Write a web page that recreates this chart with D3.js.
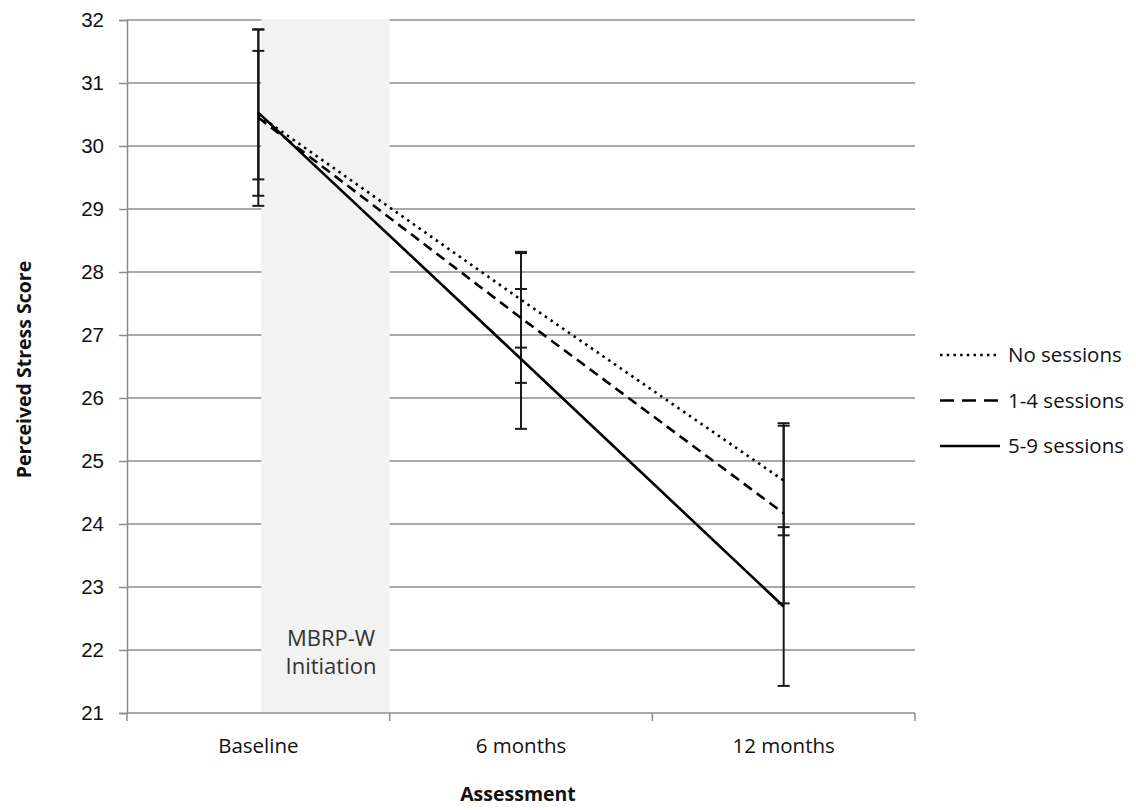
<!DOCTYPE html>
<html>
<head>
<meta charset="utf-8">
<script src="https://cdn.jsdelivr.net/npm/d3@7"></script>
<style>
  body { margin: 0; background: #ffffff; }
  svg { font-family: "Open Sans", "Noto Sans", sans-serif; }
</style>
</head>
<body>
<div id="container"></div>
<script>
"use strict";

const categories = ["Baseline", "6 months", "12 months"];
const seriesNames = ["No sessions", "1-4 sessions", "5-9 sessions"];
const noSessions = [30.49, 27.56, 24.69];
const noSessionsErr = [1.02, 0.76, 0.87];
const oneToFour = [30.45, 27.27, 24.17];
const oneToFourErr = [1.4, 1.03, 1.43];
const fiveToNine = [30.53, 26.62, 22.69];
const fiveToNineErr = [1.32, 1.11, 1.26];
const yTicks = [21, 22, 23, 24, 25, 26, 27, 28, 29, 30, 31, 32];
const shadeLabel = ["MBRP-W", "Initiation"];

const width = 1136;
const height = 810;
const margin = { top: 20, right: 221, bottom: 97, left: 127 };
const gridColor = "#8c8c8c";
const labelSize = "20.5px";

const series = [
  { name: seriesNames[0], values: noSessions, errors: noSessionsErr, dash: "2.5,4.5", legendDash: "2.5,4.2" },
  { name: seriesNames[1], values: oneToFour, errors: oneToFourErr, dash: "10,6", legendDash: "14,8" },
  { name: seriesNames[2], values: fiveToNine, errors: fiveToNineErr, dash: null, legendDash: null },
];

const svg = d3.create("svg").attr("width", width).attr("height", height);
d3.select("#container").append(() => svg.node());

const x = d3
  .scaleBand()
  .domain(categories)
  .range([margin.left, width - margin.right])
  .padding(0);
const y = d3
  .scaleLinear()
  .domain([21, 32])
  .range([height - margin.bottom, margin.top]);
const cx = (c) => x(c) + x.bandwidth() / 2;

// Gridlines.
svg
  .append("g")
  .selectAll("line")
  .data(yTicks.slice(1))
  .join("line")
  .attr("x1", margin.left)
  .attr("x2", width - margin.right)
  .attr("y1", (d) => y(d))
  .attr("y2", (d) => y(d))
  .attr("stroke", gridColor)
  .attr("stroke-width", 1.5);

// Shaded intervention window, from baseline to the next category boundary.
svg
  .append("rect")
  .attr("x", cx(categories[0]) + 3)
  .attr("y", y(32) - 1)
  .attr("width", x(categories[1]) - cx(categories[0]) - 3)
  .attr("height", y(21) - y(32))
  .attr("fill", "#f2f2f2");

const shadeMid = (cx(categories[0]) + x(categories[1])) / 2 + 7;
svg
  .append("text")
  .attr("y", y(22) - 4)
  .attr("text-anchor", "middle")
  .attr("fill", "#333")
  .style("font-size", "22px")
  .selectAll("tspan")
  .data(shadeLabel)
  .join("tspan")
  .attr("x", shadeMid)
  .attr("dy", (d, i) => (i === 0 ? 0 : 28))
  .text((d) => d);

// Y axis.
svg
  .append("g")
  .attr("transform", `translate(${margin.left}, 0)`)
  .call(d3.axisLeft(y).tickValues(yTicks).tickFormat(d3.format("d")).tickSize(8).tickPadding(15))
  .call((g) => g.selectAll("line, path").attr("stroke", gridColor).attr("stroke-width", 1.5))
  .call((g) => g.selectAll("text").attr("fill", "#111").style("font-size", labelSize));

// X axis, ticks on the category boundaries.
const xAxis = svg.append("g").attr("transform", `translate(0, ${y(21)})`);
xAxis
  .append("line")
  .attr("x1", margin.left)
  .attr("x2", width - margin.right)
  .attr("stroke", gridColor)
  .attr("stroke-width", 1.5);
xAxis
  .selectAll(".bound")
  .data(categories.concat(["end"]))
  .join("line")
  .attr("x1", (d, i) => (i < categories.length ? x(d) : width - margin.right))
  .attr("x2", (d, i) => (i < categories.length ? x(d) : width - margin.right))
  .attr("y1", 0)
  .attr("y2", 8)
  .attr("stroke", gridColor)
  .attr("stroke-width", 1.5);
xAxis
  .selectAll(".cat")
  .data(categories)
  .join("text")
  .attr("x", (d) => cx(d))
  .attr("y", 40)
  .attr("text-anchor", "middle")
  .attr("fill", "#111")
  .style("font-size", labelSize)
  .text((d) => d);

// Error bars.
const capHalf = 6;
for (const s of series) {
  const g = svg.append("g").attr("stroke", "#1a1a1a").attr("stroke-width", 2);
  categories.forEach((c, i) => {
    const lo = y(s.values[i] - s.errors[i]);
    const hi = y(s.values[i] + s.errors[i]);
    g.append("line").attr("x1", cx(c)).attr("x2", cx(c)).attr("y1", lo).attr("y2", hi);
    g.append("line").attr("x1", cx(c) - capHalf).attr("x2", cx(c) + capHalf).attr("y1", lo).attr("y2", lo);
    g.append("line").attr("x1", cx(c) - capHalf).attr("x2", cx(c) + capHalf).attr("y1", hi).attr("y2", hi);
  });
}

// Series lines.
const line = d3
  .line()
  .x((d, i) => cx(categories[i]))
  .y((d) => y(d));
for (const s of series) {
  svg
    .append("path")
    .datum(s.values)
    .attr("d", line)
    .attr("fill", "none")
    .attr("stroke", "#000")
    .attr("stroke-width", 2.6)
    .attr("stroke-dasharray", s.dash);
}

// Legend.
const legend = svg.append("g").attr("transform", "translate(940, 355)");
series.forEach((s, i) => {
  const row = legend.append("g").attr("transform", `translate(0, ${i * 45.5})`);
  row
    .append("line")
    .attr("x1", 0)
    .attr("x2", 60)
    .attr("stroke", "#000")
    .attr("stroke-width", 2.6)
    .attr("stroke-dasharray", s.legendDash);
  row
    .append("text")
    .attr("x", 68)
    .attr("dy", "0.35em")
    .attr("fill", "#111")
    .style("font-size", labelSize)
    .text(s.name);
});

// Axis titles.
svg
  .append("text")
  .attr("x", (margin.left + width - margin.right) / 2 - 3)
  .attr("y", 801)
  .attr("text-anchor", "middle")
  .attr("font-weight", "bold")
  .attr("fill", "#111")
  .style("font-size", "19.5px")
  .text("Assessment");

svg
  .append("text")
  .attr("transform", `translate(31, ${(margin.top + height - margin.bottom) / 2 + 3}) rotate(-90)`)
  .attr("text-anchor", "middle")
  .attr("font-weight", "bold")
  .attr("fill", "#111")
  .style("font-size", "19.5px")
  .text("Perceived Stress Score");
</script>
</body>
</html>
